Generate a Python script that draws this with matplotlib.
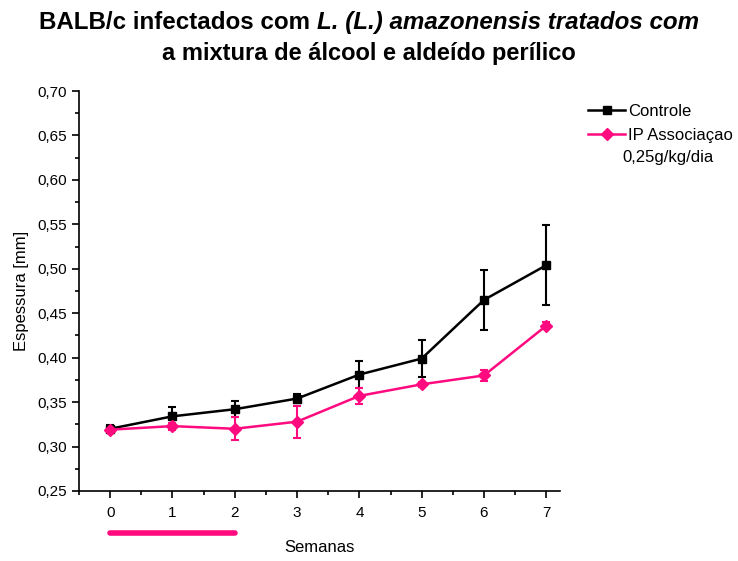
import matplotlib
matplotlib.use("Agg")
import matplotlib.pyplot as plt
from matplotlib.ticker import MultipleLocator, FuncFormatter
from matplotlib.lines import Line2D

# ── Data ───────────────────────────────────────────────
semanas = [0, 1, 2, 3, 4, 5, 6, 7]
controle = [0.320, 0.334, 0.342, 0.354, 0.381, 0.399, 0.465, 0.504]
controle_err = [0.004, 0.011, 0.009, 0.005, 0.015, 0.021, 0.034, 0.045]
ip = [0.319, 0.323, 0.320, 0.328, 0.357, 0.370, 0.380, 0.436]
ip_err = [0.003, 0.004, 0.013, 0.018, 0.009, 0.003, 0.006, 0.004]
tratamento = [0, 2]  # weeks under treatment (bar under axis)

pink = "#FF0A7F"
plt.rcParams["font.family"] = ["Liberation Sans", "DejaVu Sans"]

fig = plt.figure(figsize=(7.38, 5.61), dpi=100)
ax = fig.add_axes([79 / 738, 1 - 491 / 561, (560 - 79) / 738, 400 / 561])

ax.errorbar(semanas, controle, yerr=controle_err, color="black", marker="s",
            markersize=6, lw=1.8, capsize=3, capthick=1.5, elinewidth=1.5)
ax.errorbar(semanas, ip, yerr=ip_err, color=pink, marker="D",
            markersize=6, lw=1.8, capsize=3, capthick=1.5, elinewidth=1.5)

ax.set_xlim(-0.5, 7.22)
ax.set_ylim(0.25, 0.70)
ax.yaxis.set_major_locator(MultipleLocator(0.05))
ax.yaxis.set_minor_locator(MultipleLocator(0.025))
ax.xaxis.set_major_locator(MultipleLocator(1))
ax.xaxis.set_minor_locator(MultipleLocator(0.5))
ax.yaxis.set_major_formatter(FuncFormatter(lambda v, p: f"{v:.2f}".replace(".", ",")))
ax.tick_params(which="major", length=5, width=1.2, labelsize=11)
ax.tick_params(which="minor", length=3, width=1.2)
ax.tick_params(axis="x", pad=6)
for s in ["top", "right"]:
    ax.spines[s].set_visible(False)
for s in ["left", "bottom"]:
    ax.spines[s].set_linewidth(1.2)

ax.set_xlabel("Semanas", fontsize=12, labelpad=14)
ax.set_ylabel("Espessura [mm]", fontsize=12, labelpad=6)

# treatment period bar below the axis
ax.plot(tratamento, [-0.105, -0.105], color=pink, lw=4,
        transform=ax.get_xaxis_transform(), clip_on=False,
        solid_capstyle="round")

# ── Legend ─────────────────────────────────────────────
handles = [Line2D([], [], color="black", marker="s", markersize=6, lw=1.8),
           Line2D([], [], color=pink, marker="D", markersize=6, lw=1.8)]
ax.legend(handles, ["Controle", "IP Associaçao"], loc="upper left",
          bbox_to_anchor=(1.045, 0.985), frameon=False, fontsize=12,
          handlelength=2.2, handletextpad=0.2, borderaxespad=0,
          labelspacing=0.55)
fig.text(622 / 738, 1 - 162 / 561, "0,25g/kg/dia", fontsize=12, va="baseline")

# ── Title (bold + bold italic pieces) ──────────────────
fig.canvas.draw()
r = fig.canvas.get_renderer()
t1 = fig.text(0, 1 - 29 / 561, "BALB/c infectados com ", fontsize=17.4,
              fontweight="bold", va="baseline")
t2 = fig.text(0, 1 - 29 / 561, "L. (L.) amazonensis tratados com", fontsize=17.4,
              fontweight="bold", style="italic", va="baseline")
w1 = t1.get_window_extent(r).width / 738
w2 = t2.get_window_extent(r).width / 738
x0 = 0.5 - (w1 + w2) / 2
t1.set_x(x0)
t2.set_x(x0 + w1)
fig.text(0.5, 1 - 60 / 561, "a mixtura de álcool e aldeído perílico",
         ha="center", fontsize=17, fontweight="bold", va="baseline")

fig.savefig("out.png", dpi=100)
